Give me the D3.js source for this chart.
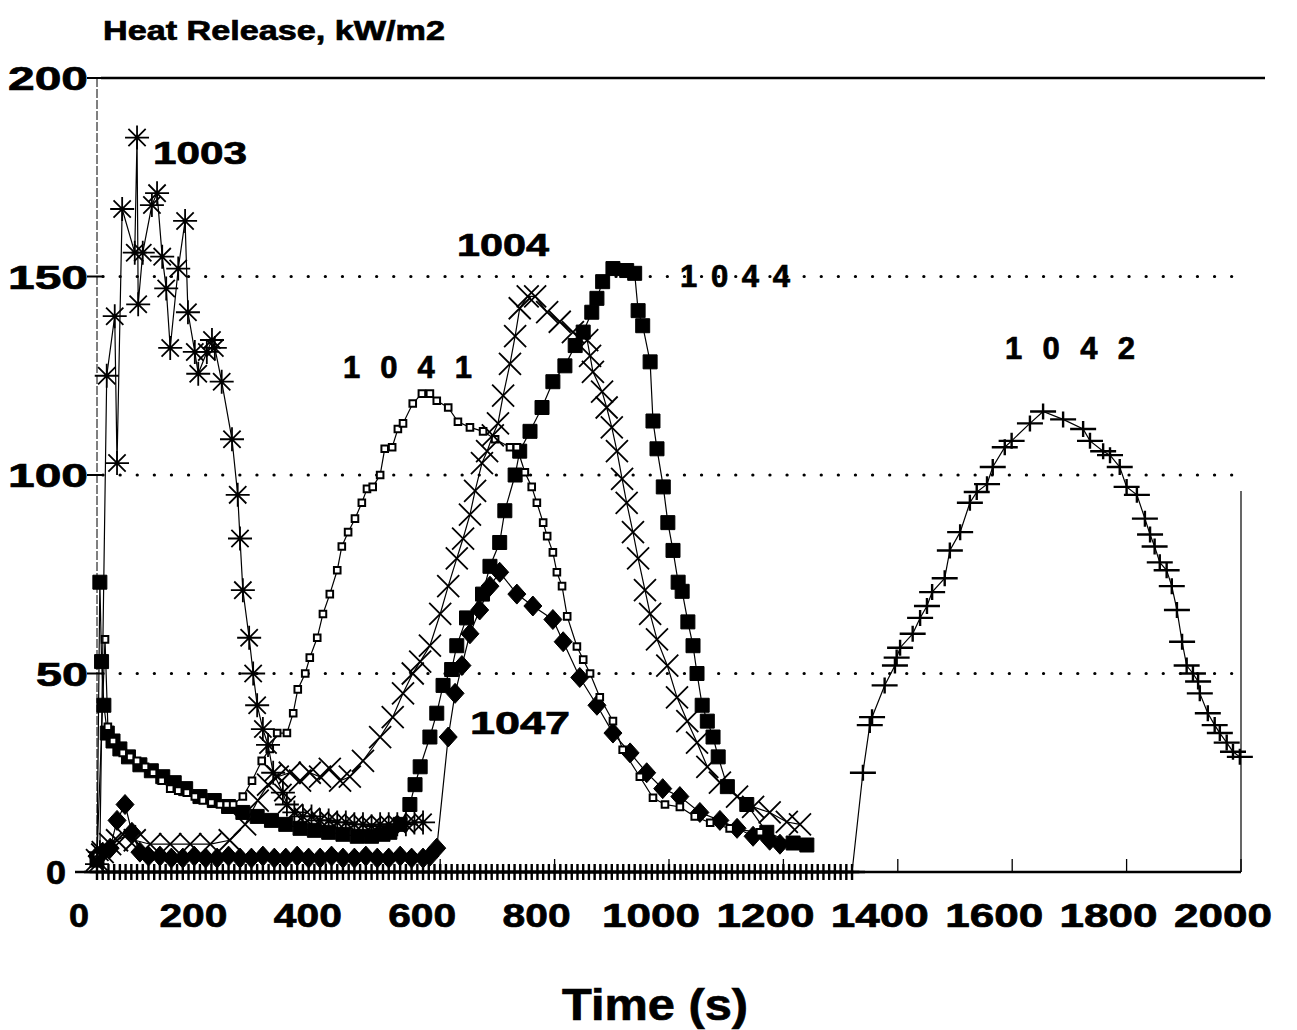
<!DOCTYPE html>
<html>
<head>
<meta charset="utf-8">
<title>Heat Release</title>
<script src="https://d3js.org/d3.v7.min.js"></script>
<style>
  body { margin: 0; background: #fff; }
  text { font-family: "Liberation Sans", Arial, Helvetica, sans-serif; font-weight: bold; fill: #000; stroke: #000; stroke-width: 0.7px; }
</style>
</head>
<body>
<div id="chart"></div>
<script>
// ---- data (time in s, heat release in kW/m2) ----
const xTicks = [0, 200, 400, 600, 800, 1000, 1200, 1400, 1600, 1800, 2000];
const yTicks = [0, 50, 100, 150, 200];
const gridY = [50, 100, 150];

// 1003 - asterisks
const t1003 = [0, 5, 17, 31, 35, 44, 66, 70, 72, 80, 96, 105, 114, 121, 128, 142, 154, 159, 171, 177,
  192, 201, 206, 218, 236, 246, 250, 255, 266, 273, 280, 290, 299, 308, 325, 332,
  345, 360, 375, 390, 405, 420, 435, 450, 465, 480, 495, 510, 525, 540, 555, 570];
const v1003 = [2, 5, 125, 140, 103, 167, 156, 185, 143, 156, 168, 171, 155, 147, 132, 152, 164, 141, 131, 125.5,
  131, 134, 132, 123.5, 109, 95, 84, 71, 59, 50, 42, 36, 32, 25, 20, 17,
  15, 14, 14, 13, 13, 12.5, 12.5, 12, 12, 11.5, 12, 12, 12, 12, 12.5, 12.5];

// 1004 - crosses
const t1004 = [0, 10, 23, 35, 49, 66, 93, 128, 163, 198, 232, 259, 281, 299, 316, 337, 355, 372, 390, 407,
  425, 442, 465, 495, 517, 535, 552, 565, 582, 600, 614, 629, 640, 652, 661, 673, 682, 692, 701, 710,
  722, 731, 739, 753, 766, 787, 809, 832, 857, 862, 867, 883, 891, 900, 909, 918, 926, 937, 946, 958,
  967, 979, 997, 1014, 1032, 1049, 1067, 1089, 1119, 1147, 1176, 1206, 1229];
const v1004 = [3, 5, 7, 8, 9, 8, 7, 7, 7, 7, 8, 12, 18, 22, 24, 25, 23, 25, 24, 26,
  23, 24, 28, 34, 39, 45, 50, 53, 57, 65, 72, 79, 84, 90, 96, 103, 106, 110, 113, 120,
  128, 135, 142, 145, 145, 141, 138.6, 136, 134, 130, 126, 121, 117, 112, 106, 99, 93, 85.6, 79, 71,
  65, 58.6, 52, 44, 38, 32.6, 26.5, 22.5, 19, 16.4, 15, 12.6, 12];

// 1044 - filled squares
const t1044 = [0, 5, 8, 12, 18, 28, 40, 55, 75, 95, 115, 135, 155, 180, 205, 230, 255, 280, 305, 330,
  355, 380, 405, 430, 455, 480, 500, 512, 530, 547, 556, 565, 582, 594, 605, 620, 629, 646, 674, 687,
  704, 713, 731, 739, 757, 778, 797, 818, 836, 850, 865, 874, 884, 902, 926, 940, 946, 954, 967, 972,
  979, 990, 998, 1007, 1016, 1023, 1033, 1042, 1049, 1058, 1067, 1077, 1086, 1102, 1136, 1171, 1217, 1241];
const v1044 = [3, 73, 53, 42, 35, 33, 31, 29, 27, 25.5, 24, 22.5, 21, 19, 18, 16.5, 15, 14, 13, 12,
  11, 10.5, 10, 9.5, 9, 9, 9.5, 10, 12, 17, 22, 26.5, 34, 40, 47, 51, 57, 64, 70, 77,
  83, 91, 100, 106, 111, 117, 123.5, 127.5, 132.6, 136, 141, 144.5, 148.7, 152, 151.5, 150.8, 141.4, 137.6, 128.5, 113.6,
  106.6, 97, 88, 81, 73, 70.7, 63, 57, 50, 42, 38, 34, 29, 21.5, 17, 10, 7.3, 6.8];

// 1041 - small open squares
const t1041 = [0, 14, 19, 28, 45, 58, 70, 84, 98, 113, 128, 142, 157, 171, 185, 200, 215, 227, 238, 255,
  271, 288, 302, 315, 332, 343, 351, 364, 372, 385, 395, 407, 420, 428, 439, 451, 463, 472, 482, 495,
  503, 516, 526, 535, 552, 568, 582, 594, 614, 631, 652, 675, 696, 722, 734, 748, 760, 769, 780, 787,
  797, 804, 813, 822, 839, 850, 862, 879, 902, 919, 949, 972, 993, 1019, 1045, 1072, 1106, 1159];
const v1041 = [4, 58.6, 36.6, 33, 30, 29, 28, 26.5, 25, 23, 21, 20.5, 20, 19, 18, 17.5, 17, 17, 17, 19,
  23, 28, 31, 35, 35, 40, 46, 50, 54, 59, 65, 70, 76, 82, 85.6, 89, 93, 96.5, 97, 100,
  106.6, 107, 111.6, 113, 118, 120.5, 120.5, 118.7, 117, 113.4, 112, 111, 109, 107, 107, 100.7, 97, 93, 88, 84.6,
  80.5, 75.5, 72, 64.4, 56.8, 53.5, 50, 44, 38, 30.8, 24, 18.7, 17, 16.4, 14, 12.4, 11, 10];

// 1047 - filled diamonds
const t1047 = [0, 10, 23, 35, 49, 61, 75, 90, 110, 130, 150, 170, 190, 210, 230, 250, 270, 290, 310, 330,
  350, 370, 390, 410, 430, 450, 470, 490, 510, 530, 550, 570, 582, 594, 614, 626, 638, 652, 669, 687,
  704, 734, 762, 797, 815, 844, 874, 902, 932, 961, 989, 1019, 1054, 1089, 1119, 1147, 1176, 1194];
const v1047 = [4, 5, 6, 13, 17, 10, 5, 4, 4, 3.5, 3.5, 4, 3.5, 3.5, 4, 3.5, 3.5, 4, 3.5, 3.5,
  4, 3.5, 3.5, 4, 3.5, 3.5, 4, 3.5, 3.5, 4, 3.5, 3.5, 4, 6, 34, 45, 52, 60, 66, 72,
  75.5, 70, 67, 63.6, 58, 49, 42, 35, 30, 25, 21, 19, 15, 13, 11, 9, 8, 7];

// 1042 - plus signs (flat at zero until ignition)
const t1042 = [0, 10, 20, 30, 40, 50, 60, 70, 80, 90, 100, 110, 120, 130, 140, 150, 160, 170, 180, 190,
  200, 210, 220, 230, 240, 250, 260, 270, 280, 290, 300, 310, 320, 330, 340, 350, 360, 370, 380, 390,
  400, 410, 420, 430, 440, 450, 460, 470, 480, 490, 500, 510, 520, 530, 540, 550, 560, 570, 580, 590,
  600, 610, 620, 630, 640, 650, 660, 670, 680, 690, 700, 710, 720, 730, 740, 750, 760, 770, 780, 790,
  800, 810, 820, 830, 840, 850, 860, 870, 880, 890, 900, 910, 920, 930, 940, 950, 960, 970, 980, 990,
  1000, 1010, 1020, 1030, 1040, 1050, 1060, 1070, 1080, 1090, 1100, 1110, 1120, 1130, 1140, 1150, 1160, 1170, 1180, 1190,
  1200, 1210, 1220, 1230, 1240, 1250, 1260, 1270, 1280, 1290, 1300, 1310, 1320,
  1339, 1351, 1355, 1377, 1395, 1398, 1404, 1426, 1439, 1451, 1460, 1482, 1491, 1509, 1526, 1538, 1556, 1566, 1587, 1599,
  1631, 1654, 1689, 1724, 1736, 1759, 1771, 1788, 1800, 1818, 1832, 1841, 1849, 1858, 1870, 1879, 1888, 1897, 1905, 1916,
  1925, 1928, 1942, 1954, 1963, 1975, 1986, 1998];
const v1042 = [0, 0, 0, 0, 0, 0, 0, 0, 0, 0, 0, 0, 0, 0, 0, 0, 0, 0, 0, 0,
  0, 0, 0, 0, 0, 0, 0, 0, 0, 0, 0, 0, 0, 0, 0, 0, 0, 0, 0, 0,
  0, 0, 0, 0, 0, 0, 0, 0, 0, 0, 0, 0, 0, 0, 0, 0, 0, 0, 0, 0,
  0, 0, 0, 0, 0, 0, 0, 0, 0, 0, 0, 0, 0, 0, 0, 0, 0, 0, 0, 0,
  0, 0, 0, 0, 0, 0, 0, 0, 0, 0, 0, 0, 0, 0, 0, 0, 0, 0, 0, 0,
  0, 0, 0, 0, 0, 0, 0, 0, 0, 0, 0, 0, 0, 0, 0, 0, 0, 0, 0, 0,
  0, 0, 0, 0, 0, 0, 0, 0, 0, 0, 0, 0, 0,
  25, 37, 39, 47, 52, 54, 56.5, 60, 64, 67, 70.5, 74, 81, 85.6, 93, 95.7, 97.7, 102, 107, 108.6,
  113, 116, 114, 111.6, 108.6, 106, 105, 102, 97, 95, 89, 85, 82, 78, 76, 72, 66, 58, 52, 50,
  48, 45, 40, 37, 35, 32.6, 30.3, 29];

// series label names
const labels = ["1003", "1004", "1044", "1041", "1042", "1047"];

// ---- drawing ----
const width = 1297, height = 1030;

const svg = d3.select("#chart")
  .append("svg")
  .attr("width", width)
  .attr("height", height)
  .style("background", "#fff");

const x = d3.scaleLinear().domain([0, 2000]).range([97, 1241]);
const y = d3.scaleLinear().domain([0, 200]).range([872, 78]);

// dotted gridlines
svg.append("g")
  .selectAll("line")
  .data(gridY)
  .enter()
  .append("line")
    .attr("x1", x(0) + 6)
    .attr("x2", x(2000))
    .attr("y1", d => y(d))
    .attr("y2", d => y(d))
    .attr("stroke", "#000")
    .attr("stroke-width", 3.2)
    .attr("stroke-linecap", "round")
    .attr("stroke-dasharray", "0.1,17");

// frame
svg.append("line")   // top
  .attr("x1", x(0) + 4).attr("x2", 1265)
  .attr("y1", y(200)).attr("y2", y(200))
  .attr("stroke", "#000").attr("stroke-width", 2.5);
svg.append("line")   // left
  .attr("x1", x(0)).attr("x2", x(0))
  .attr("y1", y(200)).attr("y2", y(0))
  .attr("stroke", "#000").attr("stroke-width", 1)
  .attr("stroke-dasharray", "9,2");
svg.append("line")   // right (only lower part survives in the scan)
  .attr("x1", x(2000)).attr("x2", x(2000))
  .attr("y1", y(96)).attr("y2", y(0))
  .attr("stroke", "#000").attr("stroke-width", 1.2);
svg.append("line")   // bottom
  .attr("x1", 75).attr("x2", x(2000))
  .attr("y1", y(0)).attr("y2", y(0))
  .attr("stroke", "#000").attr("stroke-width", 2.5);

// x ticks (pointing up into the plot)
svg.append("g")
  .selectAll("line")
  .data(xTicks)
  .enter()
  .append("line")
    .attr("x1", d => x(d)).attr("x2", d => x(d))
    .attr("y1", y(0)).attr("y2", y(0) - 13)
    .attr("stroke", "#000").attr("stroke-width", 1.3);

// y ticks
svg.append("g")
  .selectAll("line")
  .data(yTicks)
  .enter()
  .append("line")
    .attr("x1", x(0) - 10).attr("x2", x(0) + 6)
    .attr("y1", d => y(d)).attr("y2", d => y(d))
    .attr("stroke", "#000").attr("stroke-width", 2);

// x tick labels (sit a little left of their ticks in the scan)
const xLabelW = { 1: 20, 3: 68, 4: 98 };
svg.append("g")
  .selectAll("text")
  .data(xTicks)
  .enter()
  .append("text")
    .attr("x", d => x(d) - 18)
    .attr("y", 927)
    .attr("text-anchor", "middle")
    .attr("font-size", 33)
    .attr("textLength", d => xLabelW[String(d).length])
    .attr("lengthAdjust", "spacingAndGlyphs")
    .text(d => d);

// y tick labels
const yLabelW = { 1: 20, 2: 52, 3: 80 };
svg.append("g")
  .selectAll("text")
  .data(yTicks)
  .enter()
  .append("text")
    .attr("x", d => d === 0 ? 66 : 88)
    .attr("y", d => y(d) + 12)
    .attr("text-anchor", "end")
    .attr("font-size", 33)
    .attr("textLength", d => yLabelW[String(d).length])
    .attr("lengthAdjust", "spacingAndGlyphs")
    .text(d => d);

// axis titles
svg.append("text")
  .attr("x", 103).attr("y", 40)
  .attr("font-size", 27)
  .attr("textLength", 342).attr("lengthAdjust", "spacingAndGlyphs")
  .text("Heat Release, kW/m2");

svg.append("text")
  .attr("x", 655).attr("y", 1020)
  .attr("text-anchor", "middle")
  .attr("font-size", 45)
  .attr("textLength", 186).attr("lengthAdjust", "spacingAndGlyphs")
  .text("Time (s)");

// marker shapes
function starPath(r) {
  const d = r * 0.72;
  return `M0,${-r}L0,${r}M${-r},0L${r},0M${-d},${-d}L${d},${d}M${-d},${d}L${d},${-d}`;
}
function crossPath(r) {
  return `M${-r},${-r}L${r},${r}M${-r},${r}L${r},${-r}`;
}
function plusPath(w, h) {
  return `M${-w},0L${w},0M0,${-h}L0,${h}`;
}
function squarePath(s) {
  return `M${-s},${-s}L${s},${-s}L${s},${s}L${-s},${s}Z`;
}
function diamondPath(w, h) {
  return `M0,${-h}L${w},0L0,${h}L${-w},0Z`;
}

function drawSeries(ts, vs, marker) {
  const data = ts.map((t, i) => ({ t: t, v: vs[i] }));
  const g = svg.append("g");
  g.append("path")
    .datum(data)
    .attr("fill", "none")
    .attr("stroke", "#000")
    .attr("stroke-width", 1.2)
    .attr("d", d3.line()
      .x(d => x(d.t))
      .y(d => y(d.v)));
  g.selectAll("path.m")
    .data(data)
    .enter()
    .append("path")
      .attr("class", "m")
      .attr("transform", d => "translate(" + x(d.t) + "," + y(d.v) + ")")
      .attr("d", marker.d)
      .attr("fill", marker.fill)
      .attr("stroke", "#000")
      .attr("stroke-width", marker.sw);
}

drawSeries(t1042, v1042, { d: plusPath(13, 8), fill: "none", sw: 2.4 });
drawSeries(t1047, v1047, { d: diamondPath(9, 10), fill: "#000", sw: 1 });
drawSeries(t1044, v1044, { d: squarePath(7), fill: "#000", sw: 1 });
drawSeries(t1041, v1041, { d: squarePath(3.3), fill: "#fff", sw: 2 });
drawSeries(t1004, v1004, { d: crossPath(11), fill: "none", sw: 1.8 });
drawSeries(t1003, v1003, { d: starPath(12), fill: "none", sw: 1.8 });

// series labels; some are set tight, some widely spaced as in the scan
const labelPos = [
  { x: 153, y: 164, w: 94, adj: "spacingAndGlyphs" },   // 1003
  { x: 457, y: 256, w: 92, adj: "spacingAndGlyphs" },   // 1004
  { x: 680, y: 287, w: 110, adj: "spacing" },           // 1044
  { x: 343, y: 378, w: 129, adj: "spacing" },           // 1041
  { x: 1005, y: 359, w: 130, adj: "spacing" },          // 1042
  { x: 470, y: 734, w: 100, adj: "spacingAndGlyphs" }   // 1047
];
svg.append("g")
  .selectAll("text")
  .data(labels)
  .enter()
  .append("text")
    .attr("x", (d, i) => labelPos[i].x)
    .attr("y", (d, i) => labelPos[i].y)
    .attr("font-size", 31)
    .attr("textLength", (d, i) => labelPos[i].w)
    .attr("lengthAdjust", (d, i) => labelPos[i].adj)
    .text(d => d);
</script>
</body>
</html>
